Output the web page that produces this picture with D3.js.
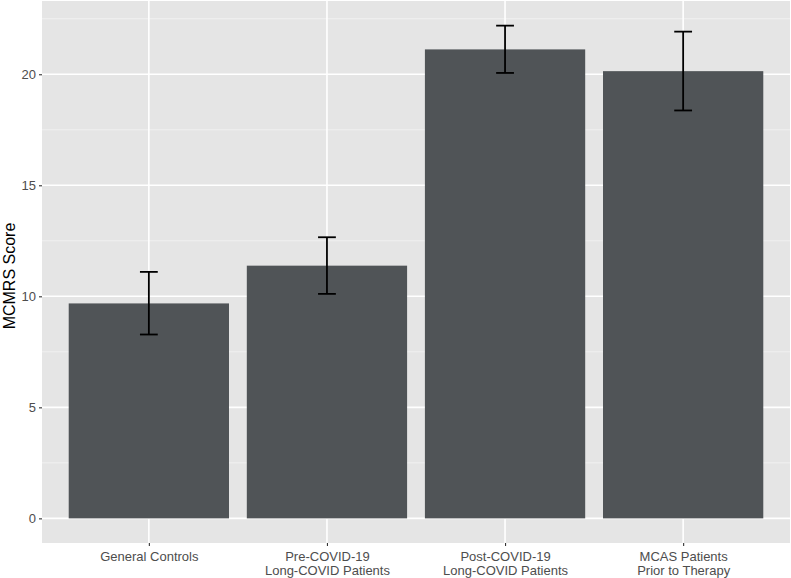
<!DOCTYPE html>
<html>
<head>
<meta charset="utf-8">
<script src="https://cdn.jsdelivr.net/npm/d3@7"></script>
<style>
  html, body { margin: 0; padding: 0; background: #ffffff; }
  svg { display: block; }
</style>
</head>
<body>
<svg id="chart" width="791" height="578"></svg>
<script>
const categories = [
  ["General Controls"],
  ["Pre-COVID-19", "Long-COVID Patients"],
  ["Post-COVID-19", "Long-COVID Patients"],
  ["MCAS Patients", "Prior to Therapy"]
];
const means = [9.68, 11.38, 21.12, 20.14];
const lower = [8.28, 10.11, 20.06, 18.37];
const upper = [11.1, 12.66, 22.19, 21.92];
const yTicks = [0, 5, 10, 15, 20];
const yMinor = [2.5, 7.5, 12.5, 17.5, 22.5];
const yLabel = "MCMRS Score";

const W = 791, H = 578;
const panel = { left: 42, right: 790, top: 1, bottom: 543 };
const svg = d3.select("#chart");
const FONT = "Liberation Sans, Arial, sans-serif";

const keys = categories.map((c, i) => i);
const n = keys.length;
const xLin = d3.scaleLinear().domain([0.4, n + 0.6]).range([panel.left, panel.right]);
const x = i => xLin(i + 1);
const step = xLin(2) - xLin(1);

const dataMax = d3.max(upper);
const pad = dataMax * 0.05;
const y = d3.scaleLinear().domain([0 - pad, dataMax + pad]).range([panel.bottom, panel.top]);

svg.append("rect").attr("x", panel.left).attr("y", panel.top)
  .attr("width", panel.right - panel.left).attr("height", panel.bottom - panel.top)
  .attr("fill", "#e5e5e5");

svg.append("g").selectAll("line").data(yMinor.filter(v => y(v) > panel.top)).join("line")
  .attr("x1", panel.left).attr("x2", panel.right)
  .attr("y1", d => y(d)).attr("y2", d => y(d))
  .attr("stroke", "#f4f4f4").attr("stroke-width", 0.8);
svg.append("g").selectAll("line").data(yTicks).join("line")
  .attr("x1", panel.left).attr("x2", panel.right)
  .attr("y1", d => y(d)).attr("y2", d => y(d))
  .attr("stroke", "#ffffff").attr("stroke-width", 1.6);
svg.append("g").selectAll("line").data(keys).join("line")
  .attr("x1", d => x(d)).attr("x2", d => x(d))
  .attr("y1", panel.top).attr("y2", panel.bottom)
  .attr("stroke", "#ffffff").attr("stroke-width", 1.6);

const bw = step * 0.9;
svg.append("g").selectAll("rect").data(keys).join("rect")
  .attr("x", d => x(d) - bw / 2).attr("width", bw)
  .attr("y", d => y(means[d])).attr("height", d => y(0) - y(means[d]))
  .attr("fill", "#505457");

const cw = step * 0.1;
const eb = svg.append("g").attr("stroke", "#000").attr("stroke-width", 1.8).attr("fill", "none");
keys.forEach(i => {
  eb.append("line").attr("x1", x(i)).attr("x2", x(i)).attr("y1", y(lower[i])).attr("y2", y(upper[i]));
  eb.append("line").attr("x1", x(i) - cw / 2).attr("x2", x(i) + cw / 2).attr("y1", y(lower[i])).attr("y2", y(lower[i]));
  eb.append("line").attr("x1", x(i) - cw / 2).attr("x2", x(i) + cw / 2).attr("y1", y(upper[i])).attr("y2", y(upper[i]));
});

const yAxis = d3.axisLeft(y).tickValues(yTicks).tickSize(3).tickPadding(3);
const gy = svg.append("g").attr("transform", `translate(${panel.left},0)`).call(yAxis);
gy.select(".domain").remove();
gy.selectAll(".tick line").attr("stroke", "#333333").attr("stroke-width", 1.1);
gy.selectAll(".tick text").attr("fill", "#4d4d4d").attr("font-size", 13)
  .attr("font-family", FONT);

const xBand = d3.scalePoint().domain(keys).range([x(0), x(n - 1)]);
const xAxis = d3.axisBottom(xBand).tickSize(3).tickPadding(4).tickFormat(() => "");
const gx = svg.append("g").attr("transform", `translate(0,${panel.bottom})`).call(xAxis);
gx.select(".domain").remove();
gx.selectAll(".tick line").attr("stroke", "#333333").attr("stroke-width", 1.1);
gx.selectAll(".tick text").each(function(d) {
  const t = d3.select(this).text(null)
    .attr("fill", "#4d4d4d").attr("font-size", 13)
    .attr("font-family", FONT)
    .attr("y", 0).attr("dy", null);
  categories[d].forEach((line, j) => {
    t.append("tspan").attr("x", 0).attr("y", 18 + j * 13.6).text(line);
  });
});

svg.append("text")
  .attr("transform", `translate(14.5,${(panel.top + panel.bottom) / 2 + 4}) rotate(-90)`)
  .attr("text-anchor", "middle")
  .attr("font-size", 16).attr("fill", "#000")
  .attr("font-family", FONT)
  .text(yLabel);
</script>
</body>
</html>
